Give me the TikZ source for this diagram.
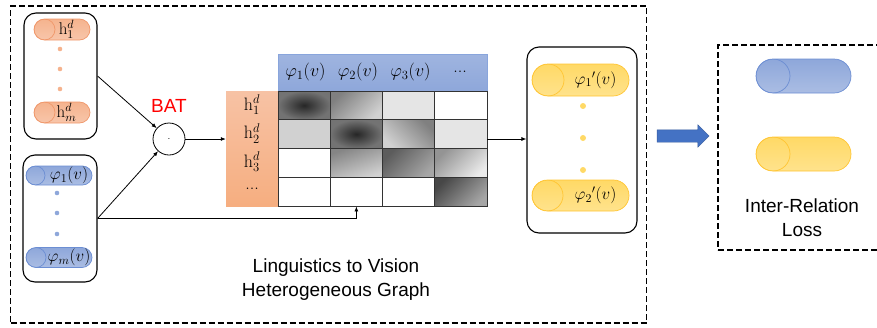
\RequirePackage{fix-cm}
\documentclass[tikz,border=0pt]{standalone}
\usepackage{amsmath}
\usepackage{fontspec}
\setsansfont{Liberation Sans}
\usetikzlibrary{positioning,calc,arrows.meta,shapes.geometric,shapes.arrows}

\definecolor{hOrange}{HTML}{F5B38E}
\definecolor{hOrangeDk}{HTML}{F0976A}
\definecolor{phiBlue}{HTML}{8EA7DA}
\definecolor{phiBlueDk}{HTML}{6C8ED3}
\definecolor{outYellow}{HTML}{FFD966}
\definecolor{outYellowDk}{HTML}{FFC533}
\definecolor{arrBlue}{HTML}{4472C4}

\tikzset{
  pill/.style n args={2}{rectangle, draw=#2Dk, line width=0.7pt, top color=#2, bottom color=#2!75!white,
    rounded corners=#1, minimum height=2*#1, inner sep=0pt, font=\fontsize{17}{17}\selectfont,
    path picture={\draw[#2Dk, line width=0.7pt] ([xshift=#1]path picture bounding box.west) circle (#1);}},
  groupbox/.style={draw, rounded corners=12pt, line width=1.1pt},
  dashbox/.style={draw, line width=1.5pt, dash pattern=on 6pt off 3pt},
  cell/.style={draw=black!80, line width=0.9pt, minimum width=52.25pt, minimum height=28.75pt, inner sep=0pt},
  cdark/.style={inner color=black!85, outer color=black!55},
  cmidA/.style={top color=black!50, bottom color=black!18, shading angle=45},
  cmidB/.style={top color=black!50, bottom color=black!18, shading angle=-45},
  cmidC/.style={top color=black!48, bottom color=black!18, shading angle=20},
  cdeep/.style={top color=black!64, bottom color=black!35, shading angle=45},
  csoft/.style={top color=black!42, bottom color=black!8, shading angle=45},
  cdeeper/.style={top color=black!72, bottom color=black!35, shading angle=45},
  cwhite/.style={fill=white},
  clight/.style={fill=black!10},
  cpale/.style={fill=black!18},
  conn/.style={-{Latex[length=5pt,width=4pt]}, line width=0.8pt},
  lbl/.style={font=\fontsize{18}{18}\selectfont, inner sep=0pt},
  sans/.style={font=\sffamily\fontsize{19}{24}\selectfont, align=center}
}

\begin{document}
\begin{tikzpicture}[x=1pt, y=-1pt]
  \useasboundingbox (0,0) rectangle (877,327);
  % frames
  \node[dashbox, minimum width=636pt, minimum height=317pt] (graphbox) at (328.5,164.5) {};
  \node[dashbox, minimum width=164pt, minimum height=205pt] (lossbox) at (800,147.5) {};

  % linguistic nodes
  \node[groupbox, minimum width=73pt, minimum height=126pt] (hbox) at (60.5,76) {};
  \node[pill={10.5pt}{hOrange}, minimum width=56pt] (h1) at (62,29.5) {\hspace{9pt}$\mathrm{h}_1^d$};
  \node[pill={10.5pt}{hOrange}, minimum width=56pt] (hm) at (62,112.5) {\hspace{9pt}$\mathrm{h}_m^d$};
  \foreach \y in {49,69,89} \fill[hOrange] (60,\y) circle (2.3pt);

  % visual nodes
  \node[groupbox, minimum width=74pt, minimum height=127pt] (phibox) at (60,218.5) {};
  \node[pill={9.5pt}{phiBlue}, minimum width=66pt] (phi1) at (59,175.5) {\hspace{20pt}$\varphi_1(v)$};
  \node[pill={10pt}{phiBlue}, minimum width=66pt] (phim) at (59,257.5) {\hspace{20pt}$\varphi_m(v)$};
  \foreach \y in {193,213,234} \fill[phiBlue] (57,\y) circle (2.3pt);

  % attention
  \node[circle, draw, line width=0.8pt, minimum size=32pt, inner sep=0pt] (bat) at (169,139) {$\cdot$};
  \node[sans, text=red, above=7pt of bat] (batlbl) {BAT};

  % heterogeneous graph matrix
  \node[draw=phiBlueDk!80, top color=phiBlue!85!white, bottom color=phiBlue, minimum width=209pt, minimum height=37pt, inner sep=0pt] (head) at (382.5,72.5) {};
  \node[top color=hOrange!80!white, bottom color=hOrange!90!orange, minimum width=52pt, minimum height=115pt, inner sep=0pt] (hcol) at (252,148.5) {};
  \foreach \r/\c/\look in {1/1/cdark, 1/2/cmidA, 1/3/clight, 1/4/cwhite,
      2/1/cpale, 2/2/cdark, 2/3/cmidB, 2/4/clight,
      3/1/cwhite, 3/2/cmidC, 3/3/cdeep, 3/4/csoft,
      4/1/cwhite, 4/2/cwhite, 4/3/cwhite, 4/4/cdeeper}
    \node[cell, \look] (cell-\r-\c) at ({278+(\c-0.5)*52.25}, {91+(\r-0.5)*28.75}) {};
  \foreach \t [count=\i] in {$\varphi_1(v)$, $\varphi_2(v)$, $\varphi_3(v)$}
    \node[lbl] (col\i) at ({253+\i*52.5}, 72) {\t};
  \node[lbl] (col4) at (460,72) {...};
  \foreach \t [count=\i] in {$\mathrm{h}_1^d$, $\mathrm{h}_2^d$, $\mathrm{h}_3^d$}
    \node[lbl] (row\i) at (252, {76.5+\i*28.5}) {\t};
  \node[lbl] (row4) at (252,189) {...};

  % refined visual nodes
  \node[groupbox, minimum width=110pt, minimum height=186pt] (outbox) at (582,140) {};
  \node[pill={16pt}{outYellow}, minimum width=97pt] (out1) at (580.5,80) {\hspace{30pt}$\varphi_1{}'(v)$};
  \node[pill={15.5pt}{outYellow}, minimum width=97pt] (out2) at (580.5,195.5) {\hspace{30pt}$\varphi_2{}'(v)$};
  \foreach \y in {106,138,170} \fill[outYellow] (583,\y) circle (3pt);

  \node[single arrow, fill=arrBlue, draw=arrBlue!80!black, line width=0.4pt, minimum height=52pt, minimum width=22pt,
    single arrow head extend=5pt, inner sep=0pt, text height=12pt] (toloss) at (680,136) {};

  % loss
  \node[pill={17pt}{phiBlue}, minimum width=95pt] (lossphi) at (803.5,76) {};
  \node[pill={17pt}{outYellow}, minimum width=95pt] (lossy) at (803.5,154) {};
  \node[sans] (losslbl) at (802,218) {Inter-Relation\\Loss};

  \node[sans] (title) at (336,279.5) {Linguistics to Vision\\Heterogeneous Graph};

  % connectors
  \draw[conn] (hbox.east) -- (bat);
  \draw[conn] (phibox.east) -- (bat);
  \draw[conn] (phibox.east) -| (cell-4-2.south);
  \draw[conn] (bat) -- (bat -| hcol.west);
  \draw[conn] (bat -| cell-2-4.east) -- (bat -| outbox.west);
\end{tikzpicture}
\end{document}
